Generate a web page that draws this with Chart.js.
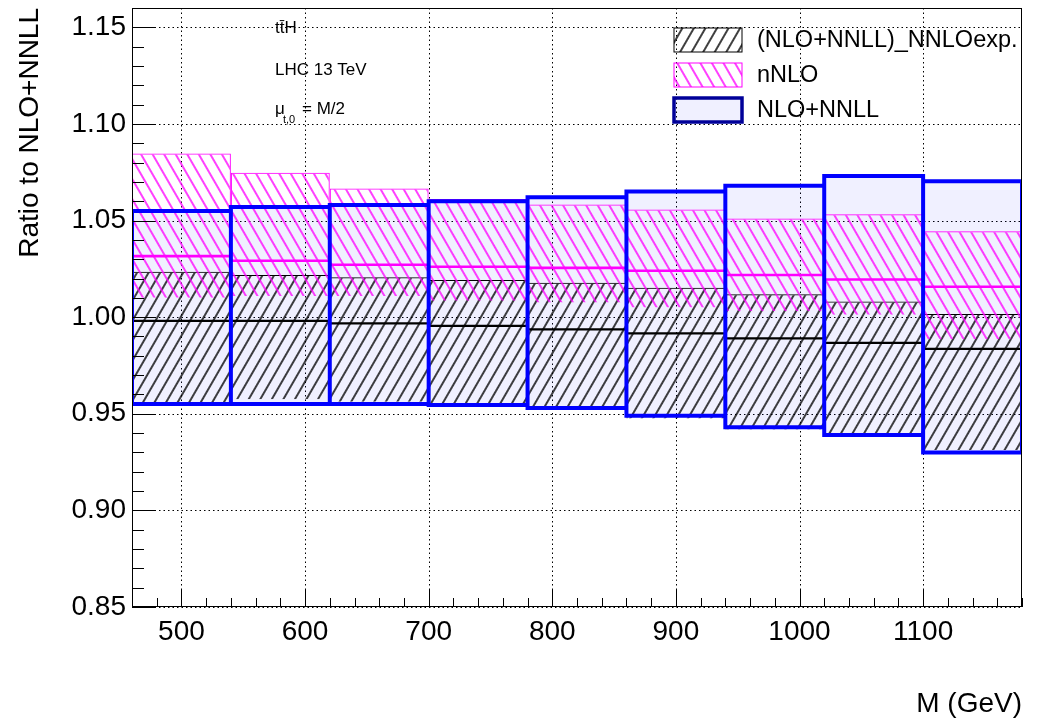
<!DOCTYPE html>
<html>
<head>
<meta charset="utf-8">
<script src="https://cdn.jsdelivr.net/npm/chart.js@4.4.1/dist/chart.umd.min.js"></script>
<style>
  html, body { margin: 0; padding: 0; background: #fff; }
  #wrap { width: 1037px; height: 724px; position: relative; }
</style>
</head>
<body>
<div id="wrap"><canvas id="c"></canvas></div>
<script>
// bins in M (GeV)
const binEdges = [460, 540, 620, 700, 780, 860, 940, 1020, 1100, 1180];

// NLO+NNLL band (blue boxes)
const nloLow  = [0.955, 0.955, 0.955, 0.9545, 0.953, 0.949, 0.943, 0.939, 0.930];
const nloHigh = [1.055, 1.057, 1.058, 1.060, 1.062, 1.065, 1.068, 1.073, 1.0704];

// (NLO+NNLL)_NNLOexp. band (black hatch) and its central value
const expLow     = [0.9558, 0.9575, 0.9562, 0.9554, 0.9523, 0.9476, 0.9419, 0.939, 0.9312];
const expHigh    = [1.0235, 1.0218, 1.0207, 1.0192, 1.0178, 1.0152, 1.0119, 1.0081, 1.0016];
const expCentral = [0.9981, 0.9981, 0.9968, 0.9955, 0.9937, 0.9916, 0.9890, 0.9867, 0.9836];

// nNLO band (magenta hatch) and its central value
const nnloLow     = [1.0100, 1.0110, 1.0109, 1.0085, 1.0076, 1.0050, 1.0031, 1.0012, 0.9886];
const nnloHigh    = [1.0847, 1.0747, 1.0666, 1.0612, 1.0583, 1.0557, 1.0511, 1.0533, 1.0445];
const nnloCentral = [1.0316, 1.0292, 1.0271, 1.0261, 1.0255, 1.0240, 1.0218, 1.0195, 1.0157];

const legendLabels = ['(NLO+NNLL)_NNLOexp.', 'nNLO', 'NLO+NNLL'];

const FONT = "'Liberation Sans', Arial, Helvetica, sans-serif";
const BLUE = '#0000ff', MAGENTA = '#ff00ff', LAVENDER = 'rgba(0,0,255,0.06)';

const centers = binEdges.slice(0, -1).map((e, i) => (e + binEdges[i + 1]) / 2);

function hatch(color, angle) {
    const c = document.createElement('canvas');
    c.width = 10; c.height = 10;
    const g = c.getContext('2d');
    g.strokeStyle = color; g.lineWidth = 1.5;
    g.beginPath(); g.moveTo(0, 5); g.lineTo(10, 5); g.stroke();
    const p = g.createPattern(c, 'repeat');
    p.setTransform(new DOMMatrix().rotate(angle));
    return p;
}
const blackHatch = hatch('#000', -60);
const magentaHatch = hatch(MAGENTA, 60);

const band = (lo, hi) => centers.map((x, i) => ({ x, y: [lo[i], hi[i]] }));
// one horizontal segment per bin, gaps between
const steps = vals => vals.flatMap((v, i) => [{ x: binEdges[i], y: v }, { x: binEdges[i + 1], y: v }, { x: binEdges[i + 1], y: null }]);
// closed outline per bin
const boxes = (lo, hi) => lo.flatMap((l, i) => {
    const x0 = binEdges[i], x1 = binEdges[i + 1];
    return [{ x: x0, y: l }, { x: x0, y: hi[i] }, { x: x1, y: hi[i] }, { x: x1, y: l }, { x: x0, y: l }, { x: x1, y: null }];
});

const barCommon = { type: 'bar', grouped: false, barPercentage: 1, categoryPercentage: 1, inflateAmount: 0 };
const lineCommon = { type: 'line', pointRadius: 0, spanGaps: false, tension: 0, fill: false };

const frame = {
    id: 'frame',
    beforeDatasetsDraw(chart) {
        const { ctx, chartArea: a, scales: { x, y } } = chart;
        ctx.save();
        ctx.strokeStyle = '#000'; ctx.lineWidth = 1; ctx.setLineDash([1.5, 3]);
        x.ticks.forEach(t => {
            const px = Math.round(x.getPixelForValue(t.value)) + 0.5;
            ctx.beginPath(); ctx.moveTo(px, a.top); ctx.lineTo(px, a.bottom); ctx.stroke();
        });
        y.ticks.forEach(t => {
            const py = Math.round(y.getPixelForValue(t.value)) + 0.5;
            ctx.beginPath(); ctx.moveTo(a.left, py); ctx.lineTo(a.right, py); ctx.stroke();
        });
        ctx.restore();
    },
    afterDraw(chart) {
        const { ctx, chartArea: a, scales: { x, y } } = chart;
        ctx.save();
        ctx.strokeStyle = '#000'; ctx.lineWidth = 1;
        // ticks, drawn inside the frame
        ctx.beginPath();
        for (let v = binEdges[0]; v <= binEdges[binEdges.length - 1]; v += 20) {
            const px = Math.round(x.getPixelForValue(v)) + 0.5;
            const len = v % 100 === 0 ? 18 : 9;
            ctx.moveTo(px, a.bottom); ctx.lineTo(px, a.bottom - len);
        }
        for (let k = 85; k <= 116; k++) {
            const py = Math.round(y.getPixelForValue(k / 100)) + 0.5;
            const len = k % 5 === 0 ? 23 : 12;
            ctx.moveTo(a.left, py); ctx.lineTo(a.left + len, py);
        }
        ctx.stroke();
        ctx.strokeRect(Math.round(a.left) + 0.5, Math.round(a.top) + 0.5, Math.round(a.right - a.left) - 1, Math.round(a.bottom - a.top) - 1);

        // legend
        const items = [
            { fill: blackHatch, stroke: '#000', lw: 1 },
            { fill: magentaHatch, stroke: MAGENTA, lw: 1 },
            { fill: LAVENDER, stroke: '#000099', lw: 3.5 }
        ];
        ctx.font = `23.5px ${FONT}`; ctx.textBaseline = 'middle'; ctx.fillStyle = '#000';
        items.forEach((it, i) => {
            const bx = 674, by = 28 + i * 35, bw = 68, bh = 24;
            ctx.fillStyle = it.fill; ctx.fillRect(bx, by, bw, bh);
            ctx.lineWidth = it.lw; ctx.strokeStyle = it.stroke; ctx.strokeRect(bx, by, bw, bh);
            ctx.fillStyle = '#000'; ctx.fillText(legendLabels[i], 757, by + bh / 2 + 1);
        });

        // annotations
        ctx.textBaseline = 'alphabetic';
        ctx.font = `17px ${FONT}`;
        ctx.fillText('tt\u0304H', 275, 33);
        ctx.fillText('LHC 13 TeV', 275, 75);
        ctx.fillText('\u03bc', 275, 114);
        ctx.fillText('= M/2', 302, 114);
        ctx.font = `11px ${FONT}`;
        ctx.fillText('t,0', 283, 123);
        ctx.restore();
    }
};

new Chart(document.getElementById('c'), {
    type: 'bar',
    data: {
        datasets: [
            { ...barCommon, label: legendLabels[2], data: band(nloLow, nloHigh), backgroundColor: LAVENDER, borderWidth: 0, order: 6 },
            { ...barCommon, label: legendLabels[0], data: band(expLow, expHigh), backgroundColor: blackHatch, borderColor: '#000', borderWidth: 1, order: 5 },
            { ...barCommon, label: legendLabels[1], data: band(nnloLow, nnloHigh), backgroundColor: magentaHatch, borderColor: MAGENTA, borderWidth: 1, order: 4 },
            { ...lineCommon, label: 'exp central', data: steps(expCentral), borderColor: '#000', borderWidth: 2.2, borderCapStyle: 'butt', order: 3 },
            { ...lineCommon, label: 'nNLO central', data: steps(nnloCentral), borderColor: MAGENTA, borderWidth: 2.6, borderCapStyle: 'butt', order: 2 },
            { ...lineCommon, label: 'NLO+NNLL outline', data: boxes(nloLow, nloHigh), borderColor: BLUE, borderWidth: 4, borderJoinStyle: 'miter', borderCapStyle: 'square', order: 1 }
        ]
    },
    options: {
        responsive: true, maintainAspectRatio: false, animation: false,
        layout: { padding: { top: 8, right: 15, left: 0, bottom: 0 } },
        plugins: { legend: { display: false }, tooltip: { enabled: false } },
        scales: {
            x: {
                type: 'linear', min: binEdges[0], max: binEdges[binEdges.length - 1], offset: false,
                grid: { display: false, drawTicks: false }, border: { display: false },
                ticks: { stepSize: 100, includeBounds: false, padding: 8, color: '#000', font: { family: FONT, size: 28 }, maxRotation: 0, callback: v => String(v) },
                title: { display: true, text: 'M (GeV)', align: 'end', color: '#000', font: { family: FONT, size: 28 }, padding: { top: 0, bottom: 3 } },
                afterFit: s => { s.height = 117; s.paddingLeft = 0; s.paddingRight = 0; }
            },
            y: {
                type: 'linear', min: 0.85, max: 1.16,
                grid: { display: false, drawTicks: false }, border: { display: false },
                ticks: { stepSize: 0.05, includeBounds: false, padding: 6, color: '#000', font: { family: FONT, size: 28 }, callback: v => v.toFixed(2) },
                title: { display: true, text: 'Ratio to NLO+NNLL', align: 'end', color: '#000', font: { family: FONT, size: 28 }, padding: { top: 13, bottom: 0 } },
                afterFit: s => { s.width = 132; s.paddingTop = 0; s.paddingBottom = 0; }
            }
        }
    },
    plugins: [frame]
});
</script>
</body>
</html>
